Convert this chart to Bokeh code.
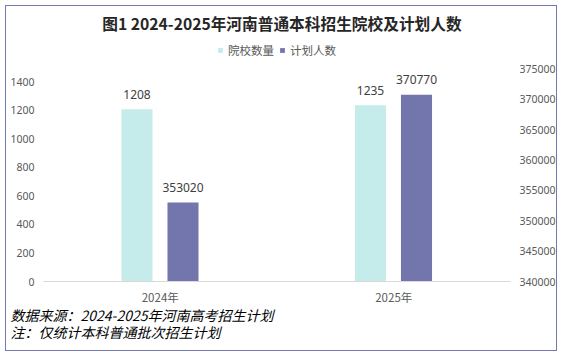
from bokeh.plotting import figure
from bokeh.models import (ColumnDataSource, FactorRange, Range1d, LinearAxis, FixedTicker,
                          PrintfTickFormatter, Title, Label, Legend, LegendItem)
from bokeh.transform import dodge
from bokeh.core.properties import value
from bokeh.embed import file_html
from bokeh.resources import INLINE

# ---- data ----
years = ["2024年", "2025年"]
schools = [1208, 1235]          # 院校数量 (left axis)
plans = [353020, 370770]        # 计划人数 (right axis)
left_ticks = [0, 200, 400, 600, 800, 1000, 1200, 1400]
right_ticks = [340000, 345000, 350000, 355000, 360000, 365000, 370000, 375000]
title_text = "图1 2024-2025年河南普通本科招生院校及计划人数"
series_names = ["院校数量", "计划人数"]
notes = ["数据来源：2024-2025年河南高考招生计划", "注：仅统计本科普通批次招生计划"]

CJK = "Noto Sans CJK SC"
CYAN = "#c5ebeb"
PURPLE = "#7276ad"
GRAY = "#595959"

src = ColumnDataSource(dict(
    year=years,
    schools=schools,
    plans=plans,
    schools_txt=[str(v) for v in schools],
    plans_txt=[str(v) for v in plans],
))

# frame spans the whole top of the canvas (title and legend drawn inside it)
p = figure(width=552, height=346, x_range=FactorRange(*years),
           y_range=Range1d(0, 1928), output_backend="svg", toolbar_location=None,
           min_border_left=37, min_border_right=48, min_border_top=0, min_border_bottom=71)
p.extra_y_ranges = {"right": Range1d(340000, 385320)}
p.background_fill_color = "white"
p.border_fill_color = "white"
p.outline_line_color = None
p.xgrid.grid_line_color = None
p.ygrid.grid_line_color = None
p.styles = {"border": "1px solid #7478b0", "margin-left": "5px", "margin-top": "5px"}

r1 = p.vbar(x=dodge("year", -0.0996, range=p.x_range), top="schools", bottom=0,
            width=0.133, source=src, fill_color=CYAN, line_color=None)
r2 = p.vbar(x=dodge("year", 0.0974, range=p.x_range), top="plans", bottom=340000,
            width=0.133, source=src, fill_color=PURPLE, line_color=None, y_range_name="right")

p.text(x=dodge("year", -0.0996, range=p.x_range), y="schools", text="schools_txt", source=src,
       text_align="center", text_baseline="alphabetic", y_offset=-15,
       text_font=value("Noto Sans"), text_font_size="12px", text_color="#404040")
p.text(x=dodge("year", 0.0974, range=p.x_range), y="plans", text="plans_txt", source=src,
       text_align="center", text_baseline="alphabetic", y_offset=-15, y_range_name="right",
       text_font=value("Noto Sans"), text_font_size="12px", text_color="#404040")

def plain_axis(ax, font, size, standoff):
    ax.axis_line_color = None
    ax.major_tick_line_color = None
    ax.minor_tick_line_color = None
    ax.major_tick_out = 0
    ax.major_tick_in = 0
    ax.minor_tick_out = 0
    ax.minor_tick_in = 0
    ax.major_label_text_font = font
    ax.major_label_text_font_size = size
    ax.major_label_text_color = GRAY
    ax.major_label_standoff = standoff

# axes
xa = p.xaxis[0]
plain_axis(xa, CJK, "11.5px", 7)
xa.axis_line_color = "#d9d9d9"

ya = p.yaxis[0]
ya.ticker = FixedTicker(ticks=left_ticks)
plain_axis(ya, "Noto Sans", "10.5px", 9)

ra = LinearAxis(y_range_name="right", ticker=FixedTicker(ticks=right_ticks),
                formatter=PrintfTickFormatter(format="%d"))
plain_axis(ra, "Noto Sans", "10.5px", 9)
p.add_layout(ra, "right")

# title (inside the frame area, screen units from frame bottom-left)
p.add_layout(Label(x=238.5, y=258, x_units="screen", y_units="screen", text=title_text,
                   text_align="center", text_baseline="middle", text_font=CJK,
                   text_font_size="15.7px", text_font_style="bold", text_color="#262626"))

# legend
leg = Legend(items=[LegendItem(label=series_names[0], renderers=[r1]),
                    LegendItem(label=series_names[1], renderers=[r2])],
             orientation="horizontal", location=(174, 221), padding=0, margin=0,
             spacing=5, label_standoff=5, glyph_width=6, glyph_height=6,
             label_height=20, label_width=10,
             label_text_font=CJK, label_text_font_size="11.5px", label_text_color=GRAY,
             border_line_color=None, background_fill_alpha=0)
p.add_layout(leg)

# footnotes below the x axis
for note, so in zip(notes, [-10, 1]):
    p.add_layout(Title(text=note, align="left", offset=-33, standoff=so, text_font=CJK,
                       text_font_size="14px", text_font_style="italic",
                       text_color="black"), "below")

open("out.html", "w").write(file_html(p, INLINE))
